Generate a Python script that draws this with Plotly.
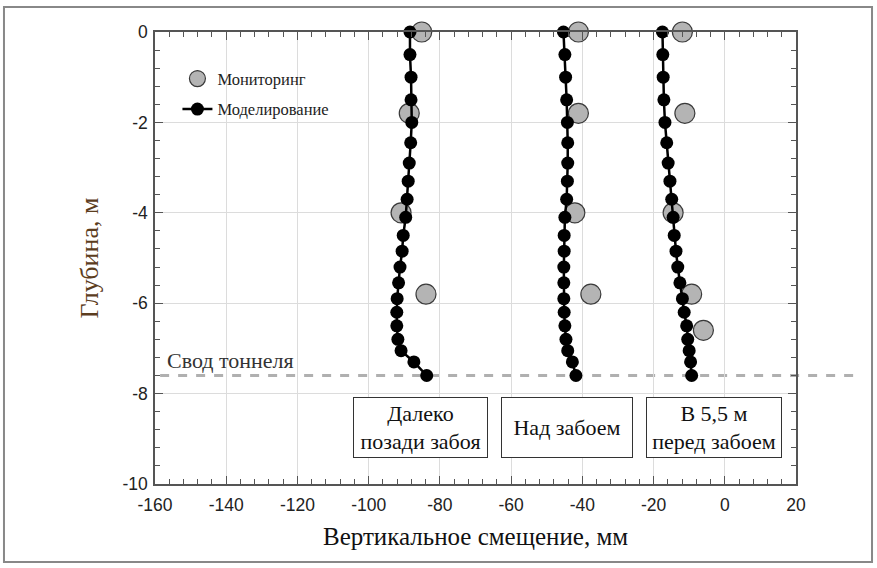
import plotly.graph_objects as go

# ---- data ----
model_depth = [0, -0.5, -1.0, -1.5, -2.0, -2.45, -2.9, -3.3, -3.7, -4.1, -4.5,
               -4.85, -5.2, -5.55, -5.9, -6.2, -6.5, -6.8, -7.05, -7.3, -7.6]
model_far = [-88.4, -88.4, -88.1, -88.1, -87.9, -88.2, -88.6, -88.9, -89.2, -89.6, -90.3,
             -90.6, -91.2, -91.6, -92.0, -92.1, -92.1, -91.8, -90.9, -87.3, -83.7]
model_above = [-45.3, -44.9, -44.7, -44.4, -44.2, -44.1, -44.1, -44.2, -44.4, -44.9, -45.1,
               -45.1, -45.2, -45.2, -45.2, -45.1, -44.9, -44.6, -44.1, -42.8, -41.8]
model_ahead = [-17.5, -17.4, -17.3, -17.1, -16.8, -16.3, -15.9, -15.4, -14.9, -14.5, -14.2,
               -13.7, -13.2, -12.6, -11.9, -11.4, -10.7, -10.4, -10.0, -9.6, -9.3]

mon_depth = [0, -1.8, -4.0, -5.8]
mon_far = [-85.1, -88.6, -90.9, -83.9]
mon_above = [-41.1, -41.1, -42.1, -37.6]
mon_depth_ahead = [0, -1.8, -4.0, -5.8, -6.6]
mon_ahead = [-11.9, -11.2, -14.5, -9.3, -6.0]

crown_depth = -7.6

x_tickvals = [-160, -140, -120, -100, -80, -60, -40, -20, 0, 20]
x_ticktext = ["-160", "-140", "-120", "-100", "-80", "-60", "-40", "-20", "0", "20"]
y_tickvals = [0, -2, -4, -6, -8, -10]
y_ticktext = ["0", "-2", "-4", "-6", "-8", "-10"]

box_labels = ["Далеко<br>позади забоя", "Над забоем", "В 5,5 м<br>перед забоем"]
box_x = [-85.4, -44.3, -2.9]
box_y = -8.75
box_w = [131, 128, 132]

# ---- build series (curves separated by gaps) ----
def join(xs_list, ys_list):
    X, Y = [], []
    for i, (xs, ys) in enumerate(zip(xs_list, ys_list)):
        if i:
            X.append(None)
            Y.append(None)
        X += list(xs)
        Y += list(ys)
    return X, Y

mx, my = join([mon_far, mon_above, mon_ahead], [mon_depth, mon_depth, mon_depth_ahead])
lx, ly = join([model_far, model_above, model_ahead], [model_depth] * 3)

serif = "Liberation Serif"
sans = "Liberation Sans"

fig = go.Figure()
fig.add_trace(go.Scatter(
    x=mx, y=my, mode="markers", name="Мониторинг", legendgroup="mon",
    marker=dict(size=20, color="#b4b4b4", line=dict(color="#3a3a3a", width=1.2)),
    cliponaxis=False,
))
fig.add_trace(go.Scatter(
    x=lx, y=ly, mode="lines+markers", name="Моделирование", legendgroup="mod",
    line=dict(color="black", width=2.5),
    marker=dict(size=13, color="black"),
    cliponaxis=False, connectgaps=False,
))

axis_common = dict(
    showline=True, linecolor="#555", linewidth=1.5, mirror="ticks",
    ticks="inside", ticklen=8, tickcolor="#555", tickwidth=1.2,
    showgrid=True, gridcolor="#dcdcdc", gridwidth=1,
    zeroline=False,
    tickfont=dict(family=sans, size=17.5, color="#222"),
)

fig.update_xaxes(
    range=[-160, 20], tickvals=x_tickvals, ticktext=x_ticktext,
    minor=dict(dtick=4, tick0=0, ticks="inside", ticklen=5, tickcolor="#555", showgrid=False),
    title=dict(text="Вертикальное смещение, мм", font=dict(family=serif, size=25, color="#111"), standoff=14),
    ticklabelstandoff=4,
    **axis_common,
)
fig.update_yaxes(
    range=[-10, 0], tickvals=y_tickvals, ticktext=y_ticktext,
    minor=dict(dtick=0.4, tick0=0, ticks="inside", ticklen=5, tickcolor="#555", showgrid=False),
    title=dict(text="Глубина, м", font=dict(family=serif, size=26, color="#5c3d1e"), standoff=16),
    ticklabelstandoff=2,
    **axis_common,
)

annotations = []
for t, xv, w in zip(box_labels, box_x, box_w):
    annotations.append(dict(
        x=xv, y=box_y, xref="x", yref="y", text=t, showarrow=False,
        font=dict(family=serif, size=22, color="#111"),
        bgcolor="white", bordercolor="#333", borderwidth=1, borderpad=1,
        width=w, height=57, align="center", valign="middle",
    ))
annotations.append(dict(
    x=0.016, y=crown_depth, xref="paper", yref="y", text="Свод тоннеля",
    showarrow=False, xanchor="left", yanchor="bottom", yshift=1,
    font=dict(family=serif, size=22, color="#333"),
))

fig.update_layout(
    width=877, height=568,
    margin=dict(l=155, r=81, t=32, b=84),
    paper_bgcolor="white", plot_bgcolor="white",
    showlegend=True,
    legend=dict(x=0.035, y=0.935, xanchor="left", yanchor="top",
                bgcolor="rgba(0,0,0,0)", borderwidth=0,
                font=dict(family=serif, size=16.5, color="#222"),
                tracegroupgap=6),
    annotations=annotations,
    shapes=[
        dict(type="line", xref="paper", yref="y", x0=0.008, x1=1.103,
             y0=crown_depth, y1=crown_depth,
             line=dict(color="#b0b0b0", width=3, dash="dash"), layer="below"),
        dict(type="rect", xref="paper", yref="paper",
             x0=-0.2356, x1=1.1186, y0=-0.1726, y1=1.0553,
             line=dict(color="#888", width=2)),
    ],
)

fig.write_html("out.html")
